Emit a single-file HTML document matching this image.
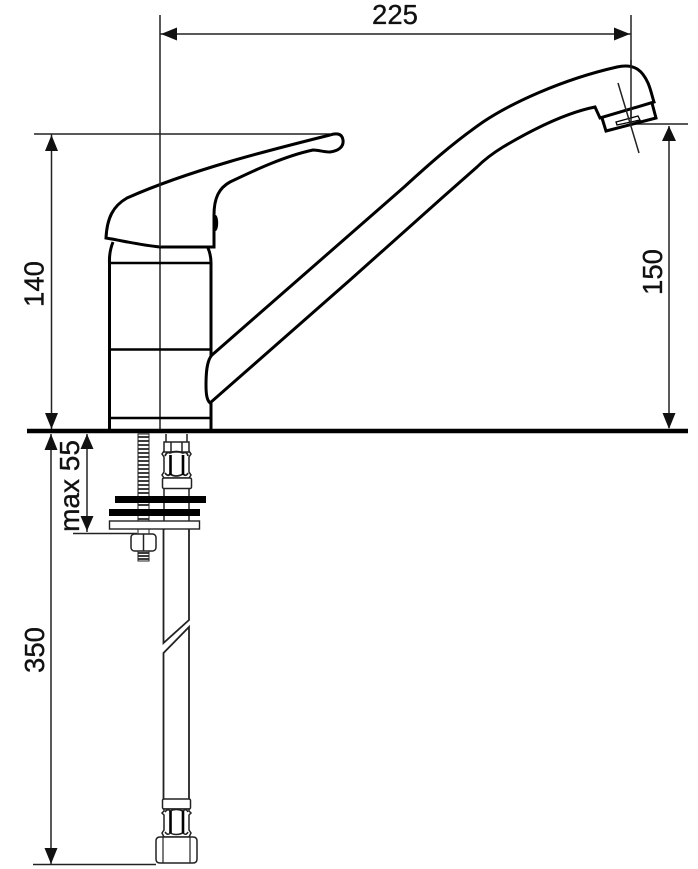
<!DOCTYPE html>
<html>
<head>
<meta charset="utf-8">
<style>
html,body{margin:0;padding:0;background:#fff;width:698px;height:869px;overflow:hidden}
svg{display:block}
text{font-family:"Liberation Sans",sans-serif;font-size:27.500px;fill:#111;stroke:#111;stroke-width:.35px}
</style>
</head>
<body>
<svg width="698" height="869" viewBox="0 0 698 869" xmlns="http://www.w3.org/2000/svg">
<rect width="698" height="869" fill="#fff"/>
<!-- thin dimension lines -->
<g stroke="#222" stroke-width="1.500" fill="none">
<path d="M160 15V431"/>
<path d="M631 15V125"/>
<path d="M160 34H631"/>
<path d="M34 134H330"/>
<path d="M51.500 134V431"/>
<path d="M51 434V865"/>
<path d="M33 864.500H156"/>
<path d="M87 434V532"/>
<path d="M73 533.500H137"/>
<path d="M632 124H688"/>
<path d="M669 126V428"/>
</g>
<!-- arrowheads -->
<g fill="#111">
<path d="M161 34L177 27.500V40.500Z"/>
<path d="M630 34L614 27.500V40.500Z"/>
<path d="M51.500 135L45 151H58Z"/>
<path d="M51.500 429L45 413H58Z"/>
<path d="M51 434L44.500 450H57.500Z"/>
<path d="M51 864L44.500 848H57.500Z"/>
<path d="M87 434L80.500 449H93.500Z"/>
<path d="M87 531L80.500 516H93.500Z"/>
<path d="M669 126L662 141H676Z"/>
<path d="M669 429L662.500 413H675.500Z"/>
</g>
<!-- body -->
<g stroke="#000" fill="none" stroke-linejoin="round">
<path d="M113 242Q109 252 109.500 263V431M208 248Q211 255 211 263V431" stroke-width="3"/>
<path d="M109 263H211M109 349.500H211M109 418H211" stroke-width="2.600"/>
</g>
<!-- handle -->
<path d="M106 238C107 218 113 206 127 198C190 170 270 150 330 135C336 133 342 133 343 140C344 147 338 151 330 152C324 152 318 150 313 150C285 156 255 170 230 182C219 188 214 198 214 215V247H160C140 245 124 241 106 238Z" fill="#fff" stroke="#000" stroke-width="3" stroke-linejoin="miter"/>
<path d="M160 183V247" stroke="#222" stroke-width="1.500"/>
<ellipse cx="215.500" cy="223" rx="2.700" ry="8" fill="#000"/>
<!-- spout -->
<path d="M212 355L403 188C425 168 450 145 483 122C510 104 560 80 617 67C636 63 643 72 648 83C651 90 652 96 654 102L600 118L595 107C570 112 540 125 503 147C490 155 482 162 477 167L443 197L350 280L210 403C207 400 206 395 206 385C206 372 207 360 212 355Z" fill="#fff" stroke="#000" stroke-width="3" stroke-linejoin="miter"/>
<path d="M602 118L606 131L656 118L652 103" fill="none" stroke="#000" stroke-width="3"/>
<path d="M616 122L638 116L640 120L617 125Z" fill="#fff" stroke="#000" stroke-width="1.300"/>
<path d="M618 83L639 153M631 60V125" stroke="#222" stroke-width="1.500" fill="none"/>
<!-- counter -->
<path d="M27 431H688" stroke="#000" stroke-width="4.500"/>
<!-- threaded rod -->
<rect x="138" y="434" width="11" height="127" fill="#fff" stroke="#222" stroke-width="1"/>
<path d="M138 437H149M138 441H149M138 445H149M138 449H149M138 453H149M138 457H149M138 461H149M138 465H149M138 469H149M138 473H149M138 477H149M138 481H149M138 485H149M138 489H149M138 493H149M138 505H149M138 519H149M138 553H149M138 556H149M138 559H149" stroke="#222" stroke-width="1.800"/>
<!-- upper hose fitting -->
<g stroke="#222" fill="#fff" stroke-width="1.500">
<path d="M166 434V442M187 434V442" fill="none"/>
<path d="M164 442H189V451L191 454L189 457V472L191 475L189 478H164L162 475L164 472V457L162 454L164 451Z"/>
<path d="M171 442V452M182 442V452M163 452H190" fill="none"/>
<path d="M165 456Q167 451 170 453Q176 450 183 453Q187 451 188 456M165 473Q168 477 170 474Q176 478 183 474Q186 477 188 473" fill="none" stroke-width="1.800"/>
<path d="M170.500 455V475M183 455V475" fill="none" stroke="#000" stroke-width="2.600"/>
<rect x="162.500" y="478" width="29" height="10.500" rx="1.500"/>
</g>
<path d="M164 488V530M189 488V530" stroke="#222" stroke-width="1.500" fill="none"/>
<!-- washers -->
<rect x="115" y="496" width="91" height="7" fill="#000"/>
<rect x="109" y="509" width="91" height="7" fill="#000"/>
<rect x="109.500" y="521" width="90" height="8" fill="#fff" stroke="#222" stroke-width="1.400"/>
<!-- nut -->
<rect x="131" y="534" width="25" height="17" rx="3.500" fill="#fff" stroke="#222" stroke-width="1.500"/>
<path d="M143.500 534V551" stroke="#222" stroke-width="1.500"/>
<!-- hose -->
<g stroke="#222" stroke-width="1.800" fill="none">
<path d="M163.500 529V643L189 620V529"/>
<path d="M163.500 799V653L189 627V799"/>
</g>
<!-- lower fitting -->
<g stroke="#222" fill="#fff" stroke-width="1.500">
<rect x="162.500" y="799" width="28" height="10" rx="1.500"/>
<path d="M164 809H189V811L191 813L189 815V830L191 833L189 837H164L162 833L164 830V815L162 813L164 811Z"/>
<path d="M165 812Q168 808 170 811Q176 808 183 811Q186 808 188 812M165 832Q168 836 170 833Q176 836 183 833Q186 836 188 832" fill="none"/>
<path d="M170.500 811V833M183 811V833" fill="none" stroke="#000" stroke-width="2.600"/>
<path d="M160 837H193Q197 837 197 841V859Q197 863 193 863H160Q156 863 156 859V841Q156 837 160 837Z"/>
<path d="M163 837V863M190 837V863" fill="none" stroke-width="1.200"/>
</g>
<!-- labels -->
<text x="395" y="24" text-anchor="middle">225</text>
<text transform="translate(43.500 284) rotate(-90)" text-anchor="middle">140</text>
<text transform="translate(44 650) rotate(-90)" text-anchor="middle">350</text>
<text transform="translate(79 486) rotate(-90)" text-anchor="middle" style="font-size:28px">max 55</text>
<text transform="translate(662 272) rotate(-90)" text-anchor="middle">150</text>
</svg>
</body>
</html>
